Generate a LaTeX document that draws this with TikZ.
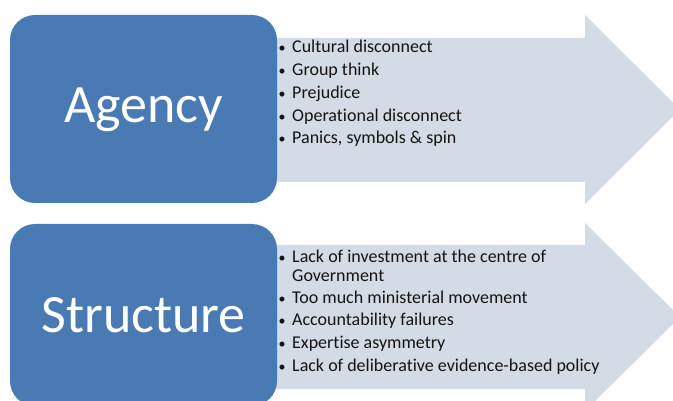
\documentclass[tikz,border=0pt]{standalone}
\usepackage{fontspec}
\setmainfont[Ligatures={NoCommon}]{Carlito}
\definecolor{boxblue}{HTML}{4A7AB4}
\definecolor{arrowfill}{HTML}{D3DBE7}
\definecolor{itemtext}{HTML}{141414}
\begin{document}
\begin{tikzpicture}[x=1pt,y=-1pt,
  headbox/.style={fill=boxblue,rounded corners=25pt},
  bigarrow/.style={fill=arrowfill},
  title/.style={text=white,font=\fontsize{54}{60}\selectfont,inner sep=0pt,anchor=base},
  item/.style={text=itemtext,font=\fontsize{18}{20}\selectfont,inner sep=0pt,anchor=base west},
  dot/.style={text=itemtext,font=\fontsize{14}{16}\selectfont,inner sep=0pt,anchor=base}]
\useasboundingbox (0,0) rectangle (673,401);
\clip (0,0) rectangle (673,401);

% block arrows behind the boxes
\fill[bigarrow] (265,38) -- (585,38) -- (585,15) -- (680,109.5) -- (585,204) -- (585,182) -- (265,182) -- cycle;
\fill[bigarrow] (265,245) -- (585,245) -- (585,223) -- (680,317) -- (585,411) -- (585,389) -- (265,389) -- cycle;

% rounded title boxes
\fill[headbox] (10,15) rectangle (277,203);
\fill[headbox] (10,224) rectangle (277,406);
\node[title] (agency) at (143.5,123) {Agency};
\node[title] (structure) at (143.5,332) {Structure};

% agency list
\foreach \t/\y [count=\i] in {Cultural disconnect/53,Group think/76,Prejudice/99,Operational disconnect/121.5,{Panics, symbols \& spin}/144}{
  \node[dot] (ad\i) at (282,\y) {•};
  \node[item] (ai\i) at (292,\y) {\t};
}

% structure list (first item wraps onto a second line)
\node[dot] (sd1) at (282,262) {•};
\node[item] (si1) at (292,262) {Lack of investment at the centre of};
\node[item] (si1b) at (292,282) {Government};
\foreach \t/\y [count=\i from 2] in {Too much ministerial movement/303.5,Accountability failures/326,Expertise asymmetry/348.5,Lack of deliberative evidence-based policy/371}{
  \node[dot] (sd\i) at (282,\y) {•};
  \node[item] (si\i) at (292,\y) {\t};
}
\end{tikzpicture}
\end{document}
